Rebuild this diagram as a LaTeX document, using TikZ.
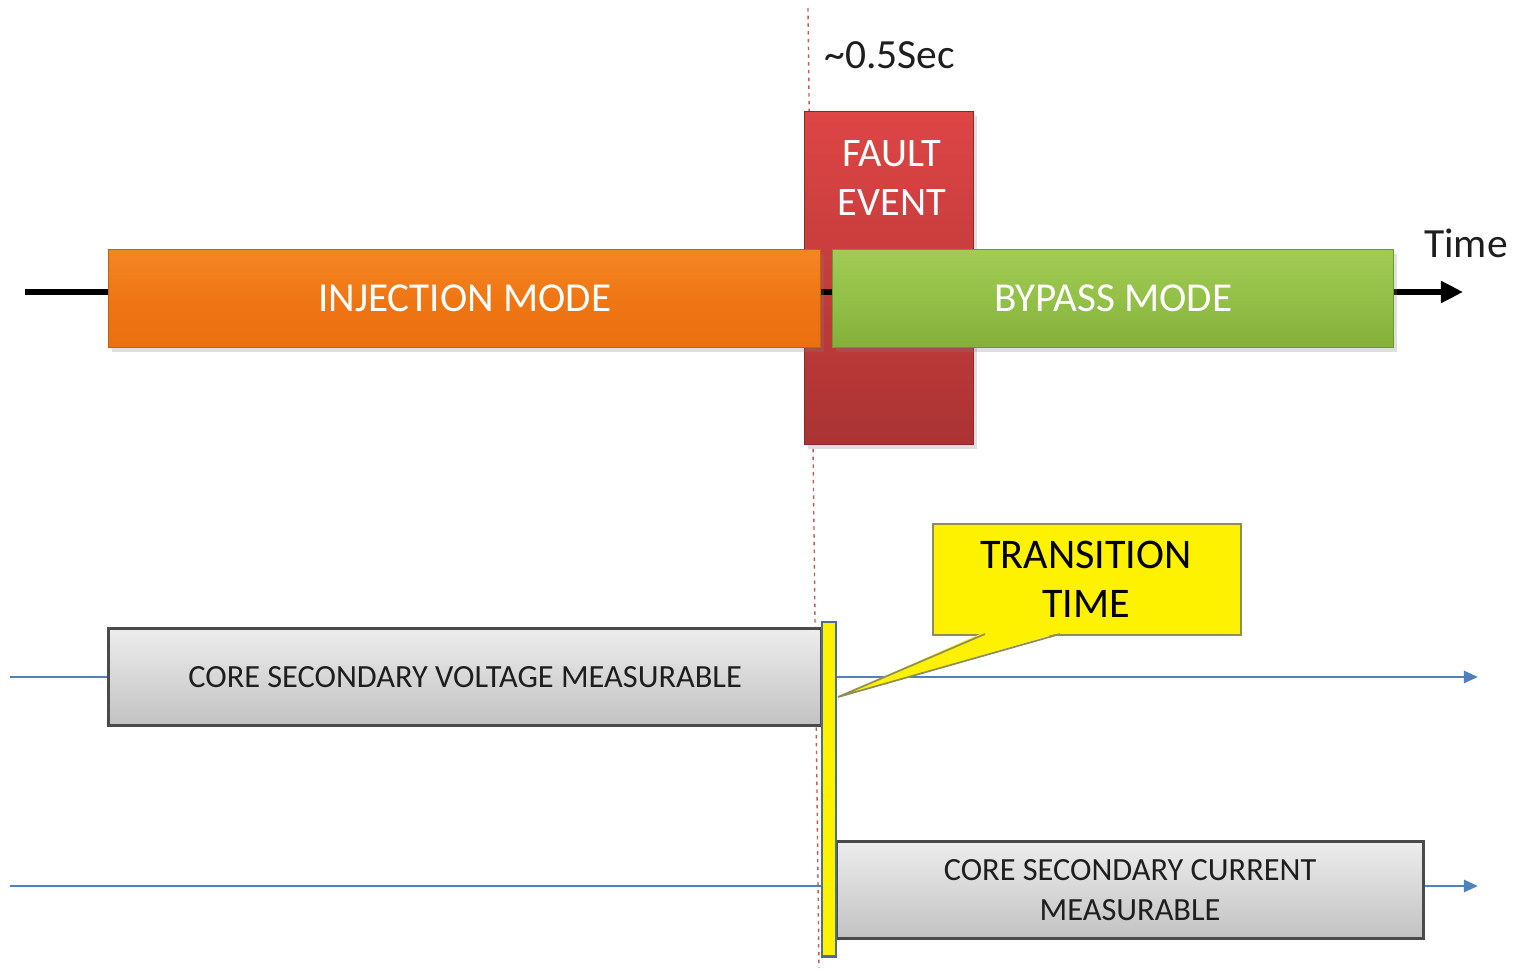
\documentclass[tikz,border=0pt]{standalone}
\usepackage{fontspec}
\setmainfont{Carlito}
\usetikzlibrary{arrows.meta,shadows}

\definecolor{injTop}{HTML}{F38624}
\definecolor{injMid}{HTML}{F07614}
\definecolor{injBot}{HTML}{EA7010}
\definecolor{bypTop}{HTML}{A1CB55}
\definecolor{bypMid}{HTML}{93C046}
\definecolor{bypBot}{HTML}{84B03B}
\definecolor{faultTop}{HTML}{DE4545}
\definecolor{faultBot}{HTML}{AB3333}
\definecolor{grayTop}{HTML}{EDEDED}
\definecolor{grayBot}{HTML}{C2C2C2}
\definecolor{grayEdge}{HTML}{4A4A4A}
\definecolor{lineBlue}{HTML}{4F81BD}
\definecolor{barEdge}{HTML}{4A6E9C}
\definecolor{markRed}{HTML}{C85A58}
\definecolor{calloutEdge}{HTML}{8F8F55}
\definecolor{textDark}{HTML}{1E1E1E}

\begin{document}
\begin{tikzpicture}[x=0.01cm,y=-0.01cm,
  modebox/.style={rectangle, anchor=north west, inner sep=0pt,
    drop shadow={shadow xshift=0.035cm, shadow yshift=-0.045cm, opacity=0.25},
    font=\fontsize{11.7}{14}\selectfont, text=white},
  injbox/.style={modebox, top color=injTop, bottom color=injBot, middle color=injMid,
    draw=injBot!85!black, line width=0.3pt},
  bypbox/.style={modebox, top color=bypTop, bottom color=bypBot, middle color=bypMid,
    draw=bypBot!85!black, line width=0.3pt},
  faultbox/.style={rectangle, anchor=north west, inner sep=0pt,
    top color=faultTop, bottom color=faultBot, draw=faultBot!80!black, line width=0.3pt,
    drop shadow={shadow xshift=0.035cm, shadow yshift=-0.045cm, opacity=0.25}},
  graybox/.style={rectangle, anchor=north west, inner sep=0pt,
    top color=grayTop, bottom color=grayBot, draw=grayEdge, line width=0.8pt,
    text=textDark, align=center},
  timeaxis/.style={line width=1.5pt, black, -{Triangle[length=0.22cm,width=0.21cm]}},
  signal/.style={line width=0.75pt, lineBlue, -{Triangle[length=0.14cm,width=0.12cm]}},
  marker/.style={markRed, line width=0.4pt, dash pattern=on 1pt off 1.2pt},
  plainlabel/.style={text=textDark, font=\fontsize{11.8}{14}\selectfont, inner sep=0pt}
]
\useasboundingbox (0,0) rectangle (1517,970);

% fault instant marker
\coordinate (mtop) at (808,8);
\coordinate (mbot) at (819,968);
\draw[marker] (mtop) -- (mbot);

% measurement lines
\coordinate (v0) at (10,677);
\coordinate (v1) at (1478,677);
\coordinate (c0) at (10,886);
\coordinate (c1) at (1478,886);
\draw[signal] (v0) -- (v1);
\draw[signal] (c0) -- (c1);

% fault window
\node[faultbox, minimum width=1.69cm, minimum height=3.33cm] (fault) at (804,111) {};
\node[text=white, align=center, font=\fontsize{11.5}{13.9}\selectfont] (faultlbl) at (892,178) {FAULT\\EVENT};

% time axis, over the fault window
\coordinate (t0) at (25,292);
\coordinate (t1) at (1463,292);
\draw[timeaxis] (t0) -- (t1);

% operating modes
\node[injbox, minimum width=7.12cm, minimum height=0.98cm] (inj) at (108,249) {INJECTION MODE};
\node[bypbox, minimum width=5.61cm, minimum height=0.98cm] (byp) at (832,249) {BYPASS MODE};

\node[plainlabel, anchor=west] (dt) at (824,55) {\textasciitilde0.5Sec};
\node[plainlabel] (time) at (1466,243) {Time};

% measurable windows
\node[graybox, minimum width=7.13cm, minimum height=0.97cm,
  font=\fontsize{9.2}{11.4}\selectfont] (volt) at (107,627) {CORE SECONDARY VOLTAGE MEASURABLE};
\node[graybox, minimum width=5.87cm, minimum height=0.97cm,
  font=\fontsize{9.2}{11.4}\selectfont] (curr) at (835,840) {CORE SECONDARY CURRENT\\MEASURABLE};

% transition bar
\node[rectangle, anchor=north west, inner sep=0pt, minimum width=0.14cm, minimum height=3.34cm,
  fill=yellow, draw=barEdge, line width=0.7pt] (bar) at (821,621) {};

% transition callout
\node[rectangle, anchor=north west, inner sep=0pt, minimum width=3.08cm, minimum height=1.11cm,
  fill=yellow, draw=calloutEdge, line width=0.5pt] (trans) at (932,523) {};
\coordinate (tip) at (838,697);
\coordinate (pa) at (985,634);
\coordinate (pb) at (1060,634);
\fill[yellow] ([xshift=-0.3pt,yshift=0.5pt]pa) -- (tip) -- ([xshift=0.3pt,yshift=0.5pt]pb) -- cycle;
\draw[calloutEdge, line width=0.5pt, line join=miter] (pa) -- (tip) -- (pb);
\node[align=center, text=black, font=\fontsize{12}{13.9}\selectfont] (translbl) at (1086,579) {TRANSITION\\TIME};
\end{tikzpicture}
\end{document}
